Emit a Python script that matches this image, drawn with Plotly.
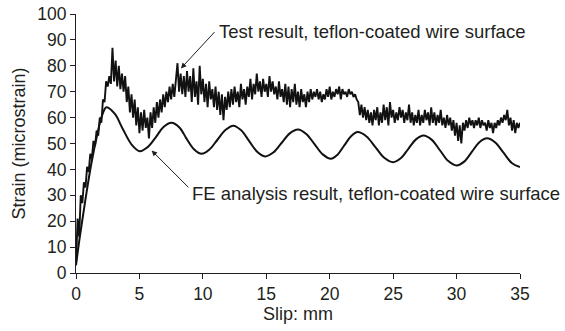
import plotly.graph_objects as go

# ---- data ----
SLIP_STEP = 0.125
test_strain = [
    3, 21, 14, 30, 27, 35, 33, 41, 39, 46, 44, 51, 49, 55, 53, 60, 58, 67, 66, 74,
    72, 76, 73, 87, 74, 82, 72, 80, 71, 77, 70, 76, 66, 72, 62, 69, 60, 67, 57, 64,
    54, 62, 55, 63, 56, 60, 52, 62, 56, 64, 58, 66, 60, 67, 62, 69, 64, 70, 66, 72,
    67, 73, 68, 75, 81, 70, 77, 69, 76, 68, 78, 70, 76, 66, 79, 68, 74, 65, 80, 69,
    75, 66, 73, 64, 74, 67, 71, 64, 72, 63, 70, 61, 69, 59, 68, 63, 70, 64, 71, 65,
    72, 66, 70, 64, 73, 67, 71, 65, 72, 68, 75, 67, 73, 69, 77, 70, 74, 68, 75, 70,
    73, 68, 76, 70, 74, 69, 72, 67, 74, 68, 71, 66, 73, 65, 72, 64, 71, 66, 73, 65,
    70, 64, 71, 66, 69, 64, 70, 66, 71, 67, 70, 68, 71, 67, 70, 66, 69, 67, 71, 68,
    72, 67, 70, 68, 71, 69, 72, 67, 71, 69, 70, 68, 71, 69, 70, 68, 69, 67, 66, 61,
    65, 60, 64, 59, 63, 58, 62, 57, 63, 59, 64, 57, 62, 58, 65, 59, 64, 57, 66, 60,
    63, 58, 62, 59, 64, 60, 63, 58, 62, 59, 65, 58, 62, 57, 61, 58, 63, 57, 61, 58,
    63, 59, 62, 57, 64, 58, 62, 57, 61, 58, 63, 57, 60, 56, 61, 57, 60, 55, 59, 53,
    58, 51, 57, 50, 58, 55, 59, 56, 60, 57, 59, 56, 59, 57, 60, 56, 59, 57, 58, 55,
    59, 56, 58, 54, 58, 56, 59, 57, 60, 58, 61, 59, 63, 57, 60, 55, 59, 54, 58, 56,
    58,
]
test_slip = [round(i * SLIP_STEP, 3) for i in range(len(test_strain))]

fe_slip = [0, 0.3, 0.7, 1.2, 1.7, 2.0, 2.4, 3.05, 3.7, 4.4, 5.04, 5.65, 6.3, 6.9, 7.54,
           8.15, 8.7, 9.3, 9.9, 10.5, 11.15, 11.8, 12.4, 13.0, 13.65, 14.3, 14.9, 15.55,
           16.2, 16.85, 17.5, 18.15, 18.8, 19.45, 20.1, 20.6, 21.15, 21.7, 22.2, 22.9,
           23.6, 24.3, 25.0, 25.6, 26.2, 26.8, 27.4, 28.05, 28.7, 29.35, 30.0, 30.6,
           31.2, 31.8, 32.4, 33.05, 33.7, 34.35, 35.0]
fe_strain = [3, 14, 27, 42, 54, 60, 64, 61.5, 55.5, 49.5, 47, 48.6, 52.5, 56.4, 58,
             56.2, 52, 47.8, 46, 47.6, 51.45, 55.3, 56.9, 55.2, 50.95, 46.7, 45, 46.5,
             50.2, 53.9, 55.4, 53.7, 49.75, 45.8, 44.1, 45.6, 49.25, 52.9, 54.4, 52.7,
             48.6, 44.5, 42.8, 44.3, 47.95, 51.6, 53.1, 51.4, 47.3, 43.2, 41.5, 43.0,
             46.75, 50.5, 52.0, 50.4, 46.45, 42.5, 40.9]

x_ticks = [0, 5, 10, 15, 20, 25, 30, 35]
y_ticks = [0, 10, 20, 30, 40, 50, 60, 70, 80, 90, 100]

test_label = "Test result, teflon-coated wire surface"
fe_label = "FE analysis result, teflon-coated wire surface"

FONT = "Arial, 'Liberation Sans', sans-serif"
TXT = "#231f20"

fig = go.Figure()
fig.add_trace(go.Scatter(x=fe_slip, y=fe_strain, mode="lines",
                         line=dict(color="#111111", width=2, shape="spline", smoothing=1.0),
                         showlegend=False, hoverinfo="skip"))
fig.add_trace(go.Scatter(x=test_slip, y=test_strain, mode="lines",
                         line=dict(color="#111111", width=1.9),
                         showlegend=False, hoverinfo="skip"))

# arrows
fig.add_annotation(x=8.27, y=79, ax=11.03, ay=93.6, axref="x", ayref="y",
                   xref="x", yref="y", text="", showarrow=True,
                   arrowhead=2, arrowsize=1.1, arrowwidth=1, arrowcolor=TXT)
fig.add_annotation(x=5.96, y=47.3, ax=8.98, ay=32.5, axref="x", ayref="y",
                   xref="x", yref="y", text="", showarrow=True,
                   arrowhead=2, arrowsize=1.1, arrowwidth=1, arrowcolor=TXT)
# labels
fig.add_annotation(x=11.15, y=93.2, xref="x", yref="y", text=test_label,
                   showarrow=False, xanchor="left", yanchor="middle",
                   font=dict(family=FONT, size=18.5, color=TXT))
fig.add_annotation(x=9.02, y=30.7, xref="x", yref="y", text=fe_label,
                   showarrow=False, xanchor="left", yanchor="middle",
                   font=dict(family=FONT, size=18.5, color=TXT))

axis_common = dict(showgrid=False, zeroline=False, showline=True, linecolor="#231f20",
                   linewidth=1, ticks="outside", ticklen=5, tickcolor="#231f20",
                   tickfont=dict(family=FONT, size=17.5, color=TXT))
fig.update_layout(
    width=565, height=331,
    margin=dict(l=76, r=45, t=14, b=58),
    paper_bgcolor="white", plot_bgcolor="white",
    xaxis=dict(range=[0, 35], tickvals=x_ticks, ticktext=[str(v) for v in x_ticks],
               title=dict(text="Slip: mm", font=dict(family=FONT, size=18, color=TXT), standoff=2),
               **axis_common),
    yaxis=dict(range=[0, 100], tickvals=y_ticks, ticktext=[str(v) for v in y_ticks],
               title=dict(text="Strain (microstrain)", font=dict(family=FONT, size=18, color=TXT), standoff=6),
               **axis_common),
)
fig.update_xaxes(automargin=False)
fig.update_yaxes(automargin=False)
fig.write_html("out.html")
